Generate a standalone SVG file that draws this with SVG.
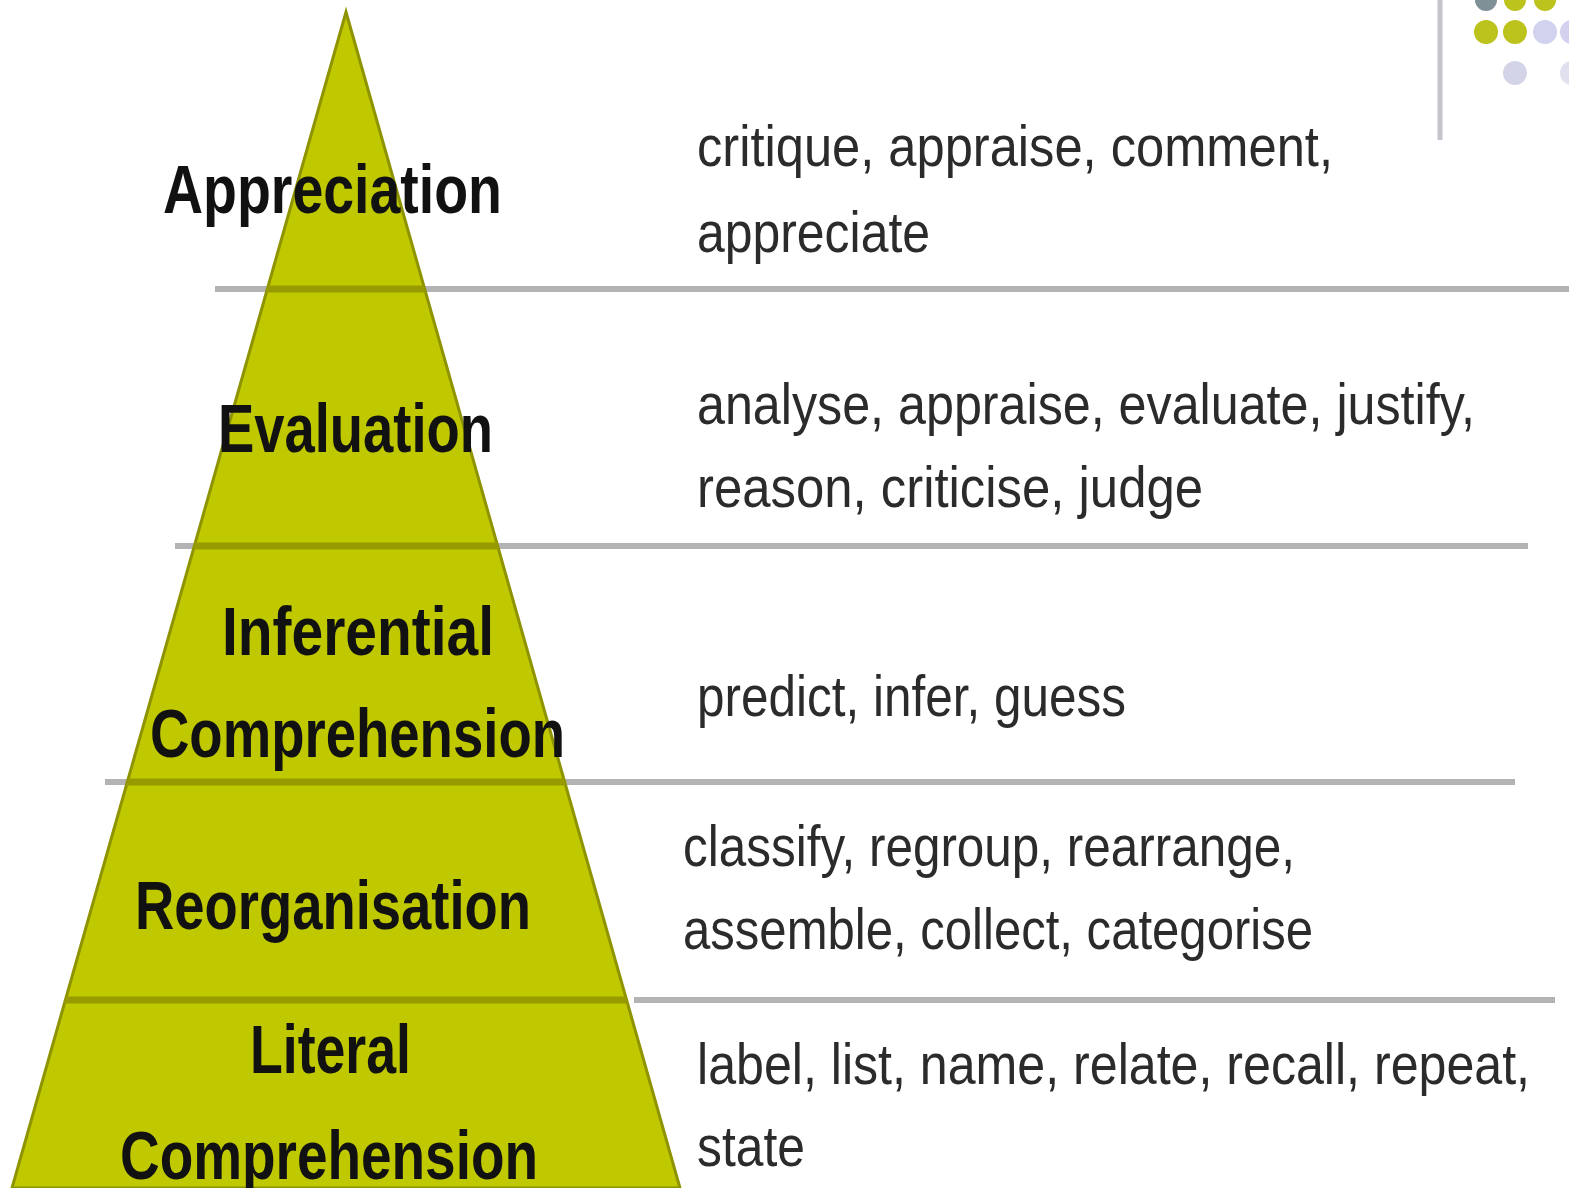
<svg xmlns="http://www.w3.org/2000/svg" width="1569" height="1188" viewBox="0 0 1569 1188">
<style>
.gray{stroke:#b3b3b3;stroke-width:6;fill:none}
.dark{stroke:#989b00;stroke-width:7;fill:none}
.lbl{font-family:"Liberation Sans","Open Sans",sans-serif;font-weight:bold;font-size:68px;fill:#111}
.desc{font-family:"Liberation Sans","Open Sans",sans-serif;font-size:58px;fill:#2b2b2b}
</style>
<defs>
<clipPath id="pyr"><polygon points="346,12 680,1188 12,1188"/></clipPath>
</defs>
<rect width="1569" height="1188" fill="#fff"/>
<g id="decoration">
<line x1="1440" y1="0" x2="1440" y2="140" stroke="#c4c4cc" stroke-width="5"/>
<circle cx="1486" cy="0" r="11" fill="#7f9096"/>
<circle cx="1515" cy="0" r="11" fill="#bcc31c"/>
<circle cx="1545" cy="0" r="11" fill="#bcc31c"/>
<circle cx="1486" cy="32" r="12" fill="#bcc31c"/>
<circle cx="1515" cy="32" r="12" fill="#bcc31c"/>
<circle cx="1545" cy="32" r="12" fill="#d2d2ee"/>
<circle cx="1572" cy="32" r="12" fill="#d2d2ee"/>
<circle cx="1515" cy="73" r="12" fill="#d4d4e8"/>
<circle cx="1572" cy="73" r="12" fill="#e0e0ee"/>
</g>
<g id="connectors">
<line class="gray" x1="215" y1="289" x2="1569" y2="289"/>
<line class="gray" x1="175" y1="546" x2="1528" y2="546"/>
<line class="gray" x1="105" y1="782" x2="1515" y2="782"/>
<line class="gray" x1="634" y1="1000" x2="1555" y2="1000"/>
</g>
<g id="pyramid">
<polygon points="346,12 680,1188 12,1188" fill="#c0c800" stroke="#8e9300" stroke-width="3"/>
<g clip-path="url(#pyr)">
<line class="dark" x1="0" y1="289" x2="700" y2="289"/>
<line class="dark" x1="0" y1="546" x2="700" y2="546"/>
<line class="dark" x1="0" y1="782" x2="700" y2="782"/>
<line class="dark" x1="0" y1="1000" x2="700" y2="1000"/>
</g>
</g>
<g id="level-appreciation">
<text class="lbl" x="163" y="213" textLength="339" lengthAdjust="spacingAndGlyphs">Appreciation</text>
<text class="desc" x="697" y="166" textLength="636" lengthAdjust="spacingAndGlyphs">critique, appraise, comment,</text>
<text class="desc" x="697" y="252" textLength="233" lengthAdjust="spacingAndGlyphs">appreciate</text>
</g>
<g id="level-evaluation">
<text class="lbl" x="218" y="452" textLength="275" lengthAdjust="spacingAndGlyphs">Evaluation</text>
<text class="desc" x="697" y="424" textLength="778" lengthAdjust="spacingAndGlyphs">analyse, appraise, evaluate,  justify,</text>
<text class="desc" x="697" y="507" textLength="506" lengthAdjust="spacingAndGlyphs">reason,  criticise, judge</text>
</g>
<g id="level-inferential">
<text class="lbl" x="222" y="655" textLength="272" lengthAdjust="spacingAndGlyphs">Inferential</text>
<text class="lbl" x="150" y="757" textLength="415" lengthAdjust="spacingAndGlyphs">Comprehension</text>
<text class="desc" x="697" y="716" textLength="429" lengthAdjust="spacingAndGlyphs">predict, infer, guess</text>
</g>
<g id="level-reorganisation">
<text class="lbl" x="135" y="929" textLength="396" lengthAdjust="spacingAndGlyphs">Reorganisation</text>
<text class="desc" x="683" y="866" textLength="612" lengthAdjust="spacingAndGlyphs">classify, regroup, rearrange,</text>
<text class="desc" x="683" y="949" textLength="630" lengthAdjust="spacingAndGlyphs">assemble, collect, categorise</text>
</g>
<g id="level-literal">
<text class="lbl" x="250" y="1073" textLength="161" lengthAdjust="spacingAndGlyphs">Literal</text>
<text class="lbl" x="120" y="1179" textLength="418" lengthAdjust="spacingAndGlyphs">Comprehension</text>
<text class="desc" x="697" y="1084" textLength="833" lengthAdjust="spacingAndGlyphs">label, list, name, relate, recall, repeat,</text>
<text class="desc" x="697" y="1166" textLength="108" lengthAdjust="spacingAndGlyphs">state</text>
</g>
</svg>
